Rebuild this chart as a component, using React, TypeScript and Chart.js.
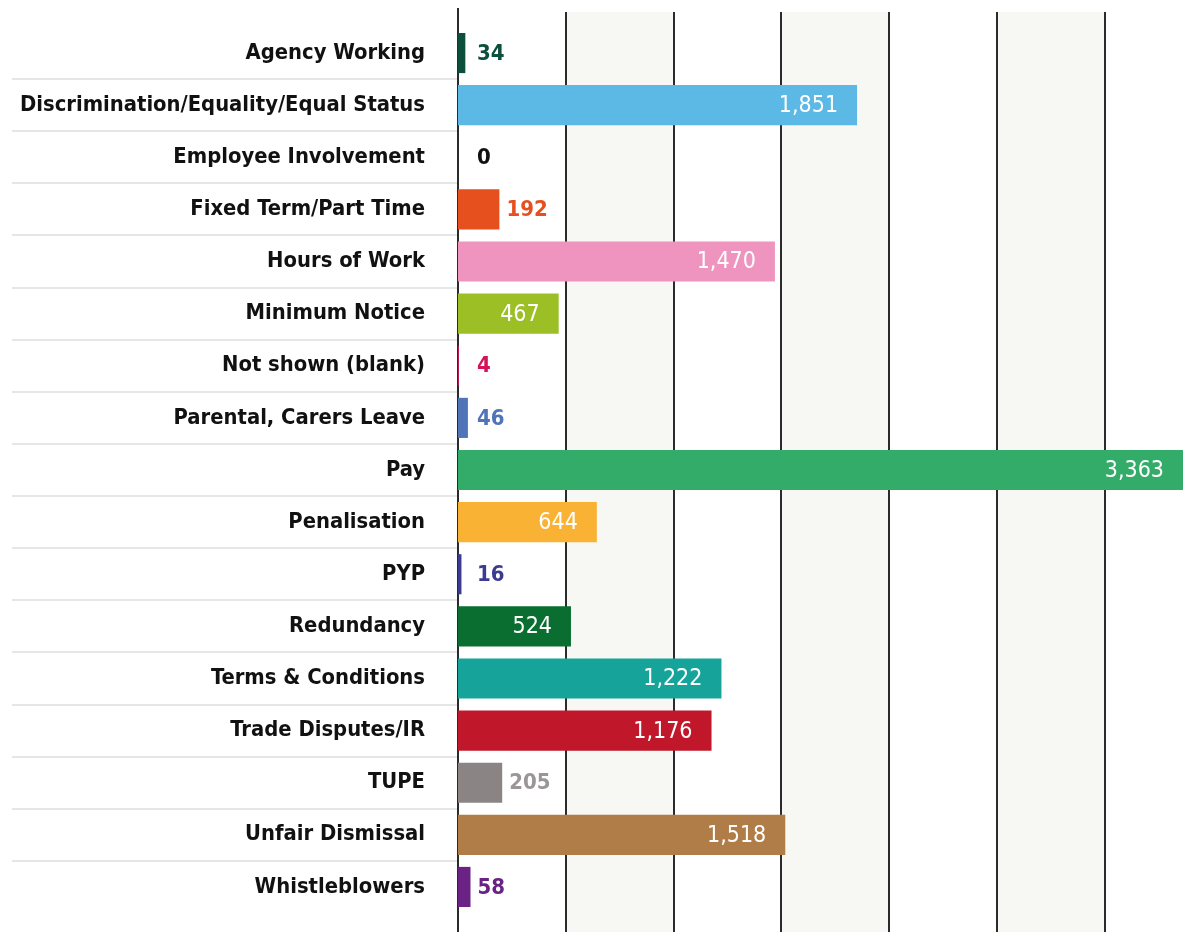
import React, { useEffect, useRef } from "react";
import { Chart, registerables } from "chart.js";

Chart.register(...registerables);

const categories: string[] = [
  "Agency Working",
  "Discrimination/Equality/Equal Status",
  "Employee Involvement",
  "Fixed Term/Part Time",
  "Hours of Work",
  "Minimum Notice",
  "Not shown (blank)",
  "Parental, Carers Leave",
  "Pay",
  "Penalisation",
  "PYP",
  "Redundancy",
  "Terms & Conditions",
  "Trade Disputes/IR",
  "TUPE",
  "Unfair Dismissal",
  "Whistleblowers",
];

const values: number[] = [34, 1851, 0, 192, 1470, 467, 4, 46, 3363, 644, 16, 524, 1222, 1176, 205, 1518, 58];

const barColors: string[] = [
  "#0b4f3c",
  "#5cb8e4",
  "#111111",
  "#e5501e",
  "#ef93bf",
  "#9bbf24",
  "#d4145a",
  "#4f74b8",
  "#33ab69",
  "#f9b233",
  "#3b3b8f",
  "#0a6e31",
  "#16a39a",
  "#c0172a",
  "#8a8584",
  "#b07d48",
  "#6a2384",
];

const labelColors: string[] = [
  "#0b4f3c",
  "#ffffff",
  "#111111",
  "#e5501e",
  "#ffffff",
  "#ffffff",
  "#d4145a",
  "#4f74b8",
  "#ffffff",
  "#ffffff",
  "#3b3b8f",
  "#ffffff",
  "#ffffff",
  "#ffffff",
  "#9a9696",
  "#ffffff",
  "#6a2384",
];

const gridValues: number[] = [0, 500, 1000, 1500, 2000, 2500, 3000];
const xMax = 3400;
const insideThreshold = 400;

const FONT = "'DejaVu Sans Condensed', 'DejaVu Sans', sans-serif";

const fmt = (v: number) => v.toLocaleString("en-US");

const decorPlugin = {
  id: "decor",
  beforeDatasetsDraw(chart: any) {
    const { ctx, scales, chartArea } = chart;
    const x = scales.x;
    const y = scales.y;
    const top = 4;
    const bottom = chart.height;
    ctx.save();
    for (let i = 0; i < gridValues.length; i++) {
      if (i % 2 === 1) {
        const x0 = x.getPixelForValue(gridValues[i]);
        const x1 = i + 1 < gridValues.length ? x.getPixelForValue(gridValues[i + 1]) : chartArea.right;
        ctx.fillStyle = "#f7f7f3";
        ctx.fillRect(x0, top, x1 - x0, bottom - top);
      }
    }
    ctx.strokeStyle = "#2b2b2b";
    ctx.lineWidth = 2;
    for (let i = 1; i < gridValues.length; i++) {
      const px = Math.round(x.getPixelForValue(gridValues[i]));
      ctx.beginPath();
      ctx.moveTo(px, top);
      ctx.lineTo(px, bottom);
      ctx.stroke();
    }
    const x0 = Math.round(x.getPixelForValue(0));
    ctx.beginPath();
    ctx.moveTo(x0, 0);
    ctx.lineTo(x0, bottom);
    ctx.stroke();
    ctx.strokeStyle = "#e6e6e6";
    ctx.lineWidth = 2;
    for (let i = 0; i < categories.length - 1; i++) {
      const py = Math.round((y.getPixelForValue(i) + y.getPixelForValue(i + 1)) / 2);
      ctx.beginPath();
      ctx.moveTo(4, py);
      ctx.lineTo(x0 - 1, py);
      ctx.stroke();
    }
    ctx.restore();
  },
  afterDatasetsDraw(chart: any) {
    const { ctx, scales } = chart;
    const x = scales.x;
    const y = scales.y;
    const x0 = x.getPixelForValue(0);
    ctx.save();
    ctx.textBaseline = "middle";
    values.forEach((v, i) => {
      const py = y.getPixelForValue(i);
      const end = x.getPixelForValue(v);
      if (v >= insideThreshold) {
        ctx.font = `23px ${FONT}`;
        ctx.fillStyle = labelColors[i];
        ctx.textAlign = "right";
        ctx.fillText(fmt(v), end - 19, py + 1);
      } else {
        ctx.font = `bold 22px ${FONT}`;
        ctx.fillStyle = labelColors[i];
        ctx.textAlign = "left";
        ctx.fillText(fmt(v), Math.max(end + 7, x0 + 19), py + 1);
      }
    });
    ctx.restore();
  },
};

export default function App() {
  const ref = useRef<HTMLCanvasElement | null>(null);
  useEffect(() => {
    if (!ref.current) return;
    const chart = new Chart(ref.current, {
      type: "bar",
      data: {
        labels: categories,
        datasets: [
          {
            data: values,
            backgroundColor: barColors,
            borderWidth: 0,
            barPercentage: 0.77,
            categoryPercentage: 1,
          },
        ],
      },
      options: {
        indexAxis: "y",
        animation: false,
        responsive: true,
        maintainAspectRatio: false,
        layout: { padding: { top: 19, bottom: 19, left: 0, right: 2 } },
        plugins: { legend: { display: false }, tooltip: { enabled: false } },
        scales: {
          x: { display: false, min: 0, max: xMax },
          y: {
            type: "category",
            grid: { display: false, drawTicks: false },
            border: { display: false },
            ticks: {
              color: "#111111",
              padding: 33,
              font: { family: FONT, size: 21.8, weight: "bold" },
            },
            afterFit: (s: any) => {
              s.width = 450;
              s.paddingTop = 0;
              s.paddingBottom = 0;
            },
          },
        },
      },
      plugins: [decorPlugin],
    } as any);
    return () => chart.destroy();
  }, []);
  return (
    <div style={{ width: 1185, height: 924, position: "relative" }}>
      <canvas ref={ref} />
    </div>
  );
}
